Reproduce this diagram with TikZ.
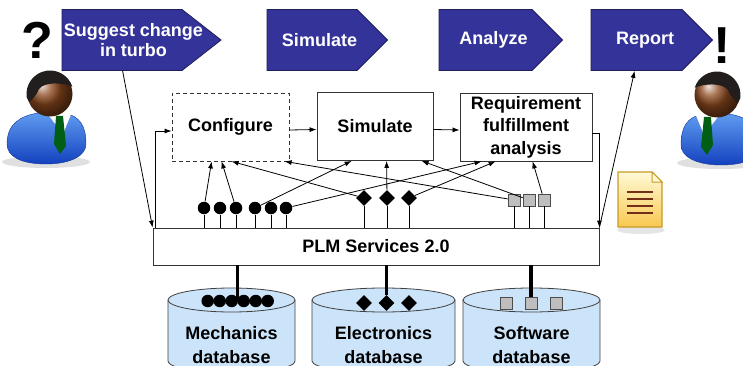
\documentclass[tikz,border=0pt]{standalone}
\usepackage{fontspec}
\setmainfont{Liberation Sans}
\usepackage{tikz}
\usetikzlibrary{arrows.meta,calc,shapes.geometric,shapes.symbols}

\definecolor{chevblue}{RGB}{51,51,153}
\definecolor{dbblue}{RGB}{204,228,250}
\definecolor{tokgray}{RGB}{190,190,190}
\definecolor{suitlight}{RGB}{95,155,240}
\definecolor{suitdark}{RGB}{20,65,190}
\definecolor{skin}{RGB}{165,85,35}
\definecolor{haircol}{RGB}{35,30,30}
\definecolor{tiegreen}{RGB}{0,95,20}
\definecolor{docpale}{RGB}{255,250,215}
\definecolor{docorange}{RGB}{248,200,80}
\definecolor{docedge}{RGB}{200,155,40}
\definecolor{docline}{RGB}{115,45,25}

% little man: head, hair, suit, collar and tie
\newcommand{\personicon}[2]{%
  \begin{scope}[shift={(#1)},yscale=-1,xscale=#2]
    \fill[black!12] (-4,-68) ellipse (44 and 6);
    \shade[top color=suitlight,bottom color=suitdark,draw=suitdark!80!black,line width=0.4pt]
      (-43,-50) .. controls (-43,-30) and (-30,-22) .. (-12,-19) -- (14,-19)
      .. controls (30,-22) and (36,-32) .. (36,-50)
      .. controls (36,-62) and (20,-70) .. (-4,-70)
      .. controls (-30,-70) and (-43,-62) .. (-43,-50) -- cycle;
    \fill[white] (-4,-18) -- (22,-18) -- (13,-40) -- cycle;
    \fill[tiegreen] (6,-22) -- (13,-22) -- (16,-52) -- (10,-60) -- (4,-50) -- cycle;
    \shade[ball color=skin!85!black] (0,0) circle (22.5);
    \fill[haircol] (188:23.5) arc[start angle=188,end angle=18,radius=23.5]
      .. controls (12,12) and (-6,12) .. (-11,5)
      .. controls (-14,-2) and (-18,-6) .. (-21,-8) -- cycle;
  \end{scope}}

\begin{document}
\begin{tikzpicture}[x=1pt,y=-1pt,line width=0.8pt,
    >={Latex[length=7pt,width=5pt]},
    every node/.style={font=\bfseries\fontsize{18}{21}\selectfont},
    chevron/.style={shape=signal,signal to=east,signal pointer angle=90,
      fill=chevblue,draw=chevblue!60!black,minimum height=61pt,inner sep=0pt},
    chevtext/.style={text=white,align=center,font=\bfseries\fontsize{18}{20}\selectfont},
    stepbox/.style={draw=black!80,minimum height=68pt,inner sep=0pt,align=center},
    tokdot/.style={circle,fill=black,minimum size=12.5pt,inner sep=0pt},
    tokdia/.style={diamond,fill=black,minimum size=16pt,inner sep=0pt},
    toksq/.style={rectangle,fill=tokgray,draw=black!70,line width=0.6pt,
      minimum size=12pt,inner sep=0pt},
    db/.style={fill=dbblue,draw=black!75},
    dbline/.style={line width=3.5pt},
    dbtext/.style={align=center,font=\bfseries\fontsize{18}{24}\selectfont}]
  \useasboundingbox (0,0) rectangle (743,366);

  % process steps
  \node[chevron,text width=120pt,signal pointer angle=76,
    label={[chevtext,xshift=11.5pt]center:Suggest change\\in turbo}] (stSuggest) at (122,40) {};
  \node[chevron,text width=90pt,
    label={[chevtext,xshift=7.5pt]center:Simulate}] (stSimulate) at (312,40) {};
  \node[chevron,text width=93pt,
    label={[chevtext,xshift=8pt]center:Analyze}] (stAnalyze) at (485.5,40) {};
  \node[chevron,text width=91pt,
    label={[chevtext,xshift=8.5pt]center:Report}] (stReport) at (636.5,40) {};

  \node[font=\bfseries\fontsize{52}{52}\selectfont] (qmark) at (37,40) {?};
  \node[font=\bfseries\fontsize{52}{52}\selectfont] (emark) at (722,46) {!};
  \personicon{50,94}{1}
  \personicon{717,95}{-1}

  % report document
  \fill[black!10] (641,230) ellipse (24 and 4);
  \shade[top color=docpale,bottom color=docorange,draw=docedge,line width=1.2pt]
    (618,172) -- (652,172) -- (662,182) -- (662,227) -- (618,227) -- cycle;
  \filldraw[fill=docpale,draw=docedge,line width=1pt] (652,172) -- (652,182) -- (662,182) -- cycle;
  \foreach \y in {192,199,206,213}
    \draw[docline,line width=2pt] (627,\y) -- (653,\y);

  % tool chain
  \node[stepbox,dash pattern=on 4pt off 3pt,minimum width=117pt] (cfg) at (230.5,127) {Configure};
  \node[stepbox,minimum width=116pt] (simbox) at (375,126.5) {Simulate};
  \node[stepbox,minimum width=132pt,font=\bfseries\fontsize{18}{22.5}\selectfont] (req) at (526,127)
    {Requirement\\fulfillment\\analysis};
  \node[draw=black!80,minimum width=446pt,minimum height=37pt,inner sep=0pt] (plm) at (376,246.5)
    {PLM Services 2.0};

  \draw[->] ([yshift=-3pt]cfg.east) -- ([yshift=-3pt]simbox.west);
  \draw[->] ([yshift=-3pt]simbox.east) -- ([yshift=-3pt]req.west);
  \draw[->] ([xshift=61pt]stSuggest.south west) -- (plm.north west);
  \draw[->] ([xshift=3pt]plm.north west) |- ([yshift=-4pt]cfg.west);
  \draw[->] ([yshift=-6pt]req.east) -| (plm.north east);
  \draw[->] (plm.north east) -- ([xshift=44pt]stReport.south west);

  % databases
  \filldraw[db] (168,300) -- (168,361) arc[start angle=180,end angle=0,x radius=63.5,y radius=12] -- (295,300);
  \filldraw[db] (231.5,300) ellipse[x radius=63.5,y radius=12];
  \filldraw[db] (312,300) -- (312,361) arc[start angle=180,end angle=0,x radius=71.5,y radius=12] -- (455,300);
  \filldraw[db] (383.5,300) ellipse[x radius=71.5,y radius=12];
  \filldraw[db] (463,300) -- (463,361) arc[start angle=180,end angle=0,x radius=68.5,y radius=12] -- (600,300);
  \filldraw[db] (531.5,300) ellipse[x radius=68.5,y radius=12];
  \node[dbtext] (mdb) at (231.5,345) {Mechanics\\database};
  \node[dbtext] (edb) at (383.5,345) {Electronics\\database};
  \node[dbtext] (sdb) at (531.5,345) {Software\\database};

  \foreach \i in {1,...,6}
    \node[tokdot] (m\i) at ({195.7+12*\i},301) {};
  \node[tokdia] (e1) at (364,303) {};
  \node[tokdia] (e2) at (386.5,303) {};
  \node[tokdia] (e3) at (409,303) {};
  \node[toksq] (w1) at (506,303) {};
  \node[toksq] (w2) at (531,303) {};
  \node[toksq] (w3) at (556,303) {};

  \coordinate (mtap) at ($(m3)!.5!(m4)$);
  \draw[dbline] (plm.south -| mtap) -- (mtap);
  \draw[dbline] (plm.south -| e2) -- (e2);
  \draw[dbline] (plm.south -| w2) -- (w2.north);

  % data items offered by the services
  \foreach \i/\x in {1/204,2/220,3/236,4/255,5/271,6/286}
    \node[tokdot] (c\i) at (\x,208) {};
  \foreach \i/\x in {1/364,2/387,3/409}
    \node[tokdia] (d\i) at (\x,198) {};
  \foreach \i/\x in {1/514,2/529,3/544}
    \node[toksq] (s\i) at (\x,200) {};
  \foreach \n in {c1,c2,c3,c4,c5,c6,d1,d2,d3,s1,s2,s3}
    \draw (\n) -- (\n |- plm.north);

  \draw[->] (c1) -- ([xshift=40pt]cfg.south west);
  \draw[->] (c3) -- ([xshift=50pt]cfg.south west);
  \draw[->] (d1) -- ([xshift=60pt]cfg.south west);
  \draw[->] (s1) -- ([xshift=113pt]cfg.south west);
  \draw[->] (c4) -- ([xshift=35pt]simbox.south west);
  \draw[->] (d2) -- ([xshift=70pt]simbox.south west);
  \draw[->] (s2) -- ([xshift=105pt]simbox.south west);
  \draw[->] (c6) -- ([xshift=22pt]req.south west);
  \draw[->] (d3) -- ([xshift=36pt]req.south west);
  \draw[->] (s3) -- ([xshift=73pt]req.south west);
\end{tikzpicture}
\end{document}
